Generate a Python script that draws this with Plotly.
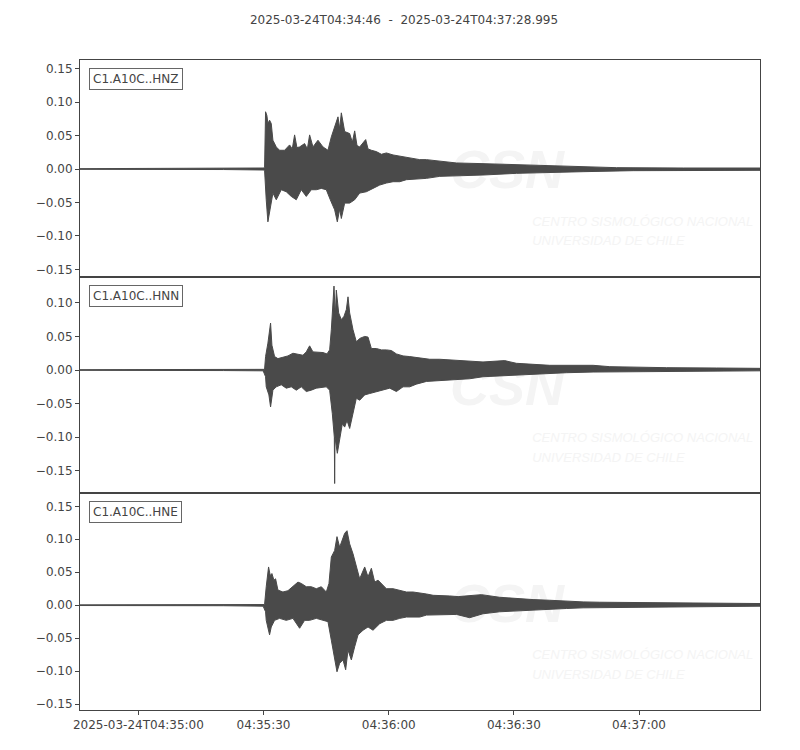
import plotly.graph_objects as go
from plotly.subplots import make_subplots
import pandas as pd

# seconds relative to 04:35:00, envelope amplitudes
base = pd.Timestamp('2025-03-24 04:35:00')

hnz_t_up = [-14.0, 20.4, 29.9, 30.24, 30.48, 30.8, 31.04, 31.44, 31.84, 32.24, 33.04, 33.84, 35.04, 36.24, 36.88,
            37.44, 38.0, 38.64, 39.84, 40.5, 41.04, 41.84, 43.04, 44.24, 45.44, 46.24, 47.04, 47.84, 48.24, 48.64,
            49.44, 50.64, 51.28, 51.84, 52.4, 53.04, 54.48, 55.04, 55.84, 57.04, 58.24, 59.44, 61.04, 62.64, 64.24,
            65.84, 67.44, 69.04, 70.64, 72.24, 73.84, 76.24, 82.6, 90.6, 98.6, 106.6, 114.6, 130.6, 149.0]
hnz_up = [0.0005, 0.0008, 0.0015, 0.002, 0.0856, 0.080, 0.068, 0.073, 0.068, 0.043, 0.033, 0.028, 0.028, 0.036, 0.030,
          0.051, 0.032, 0.033, 0.038, 0.030, 0.051, 0.033, 0.043, 0.033, 0.028, 0.048, 0.063, 0.078, 0.060, 0.084,
          0.056, 0.053, 0.040, 0.057, 0.035, 0.033, 0.044, 0.030, 0.028, 0.026, 0.022, 0.024, 0.021, 0.019, 0.017,
          0.016, 0.014, 0.014, 0.013, 0.011, 0.011, 0.009, 0.008, 0.0065, 0.0045, 0.003, 0.002, 0.0015, 0.0015]
hnz_t_lo = [-14.0, 20.4, 29.9, 30.24, 30.64, 31.04, 31.44, 31.84, 32.24, 33.04, 34.24, 35.44, 36.64, 37.84, 39.04,
            40.24, 41.44, 42.64, 43.84, 45.04, 46.0, 47.04, 47.68, 48.24, 48.64, 49.44, 50.64, 51.84, 53.04, 54.64,
            56.24, 57.84, 59.44, 61.04, 62.64, 64.24, 66.64, 69.04, 72.24, 76.24, 82.6, 90.6, 98.6, 106.6, 118.6,
            130.6, 149.0]
hnz_lo = [-0.0005, -0.0008, -0.0015, -0.002, -0.046, -0.079, -0.061, -0.051, -0.036, -0.046, -0.031, -0.034, -0.041,
          -0.046, -0.031, -0.041, -0.031, -0.031, -0.029, -0.031, -0.046, -0.061, -0.079, -0.060, -0.074, -0.051,
          -0.051, -0.046, -0.036, -0.034, -0.029, -0.024, -0.021, -0.019, -0.019, -0.016, -0.015, -0.014, -0.011,
          -0.010, -0.009, -0.0065, -0.005, -0.004, -0.0025, -0.002, -0.002]

hnn_t_up = [-14.0, 20.4, 29.9, 30.24, 30.48, 31.04, 31.68, 32.0, 32.64, 33.44, 34.64, 35.84, 37.04, 38.24, 39.44,
            40.24, 41.04, 41.84, 43.04, 44.24, 45.2, 45.84, 46.24, 46.88, 47.2, 47.44, 48.0, 48.64, 49.28, 49.84,
            50.24, 50.64, 51.44, 52.24, 53.04, 54.24, 55.04, 55.84, 57.04, 58.24, 59.44, 60.64, 61.84, 63.44, 65.04,
            66.64, 68.24, 69.84, 72.24, 74.64, 76.64, 82.6, 87.8, 90.6, 98.6, 109.0, 113.0, 118.6, 126.6, 138.6,
            149.0]
hnn_up = [0.0005, 0.0008, 0.0012, 0.001, 0.020, 0.040, 0.070, 0.037, 0.020, 0.017, 0.019, 0.021, 0.025, 0.024, 0.022,
          0.027, 0.036, 0.027, 0.027, 0.026, 0.024, 0.030, 0.060, 0.125, 0.080, 0.119, 0.085, 0.075, 0.080, 0.090,
          0.109, 0.085, 0.060, 0.042, 0.047, 0.050, 0.049, 0.032, 0.032, 0.030, 0.030, 0.029, 0.024, 0.021, 0.020,
          0.019, 0.017, 0.016, 0.016, 0.015, 0.014, 0.012, 0.014, 0.010, 0.007, 0.007, 0.005, 0.004, 0.0035, 0.003,
          0.0025]
hnn_t_lo = [-14.0, 20.4, 29.9, 30.48, 30.64, 31.28, 31.68, 32.24, 33.04, 34.24, 35.44, 36.64, 37.84, 39.04, 40.24,
            41.44, 42.64, 43.84, 45.04, 45.84, 46.48, 46.96, 47.04, 47.12, 47.68, 48.24, 48.88, 49.44, 50.0, 50.64,
            51.44, 52.24, 53.04, 54.24, 55.44, 57.04, 58.64, 60.24, 61.84, 63.44, 65.04, 66.64, 69.04, 72.24, 76.24,
            79.4, 82.6, 86.6, 90.6, 94.6, 98.6, 102.6, 109.0, 114.6, 122.6, 134.6, 149.0]
hnn_lo = [-0.0005, -0.0008, -0.0012, -0.010, -0.025, -0.037, -0.055, -0.030, -0.025, -0.022, -0.027, -0.025, -0.030,
          -0.025, -0.032, -0.030, -0.027, -0.026, -0.025, -0.030, -0.065, -0.100, -0.169, -0.100, -0.124, -0.104,
          -0.080, -0.085, -0.075, -0.087, -0.065, -0.042, -0.045, -0.037, -0.035, -0.032, -0.030, -0.027, -0.032,
          -0.025, -0.025, -0.021, -0.017, -0.015, -0.014, -0.013, -0.010, -0.0085, -0.0075, -0.006, -0.005, -0.004,
          -0.003, -0.0025, -0.002, -0.0015, -0.0012]

hne_t_up = [-14.0, -1.0, 0.0, 2.5, 20.4, 29.9, 30.24, 30.64, 31.2, 31.6, 32.0, 32.48, 32.88, 33.44, 34.64, 35.84,
            37.04, 38.24, 39.04, 40.24, 41.44, 42.64, 43.84, 45.04, 45.68, 46.24, 47.04, 47.6, 48.24, 49.04, 49.44,
            50.0, 50.64, 51.44, 52.24, 53.04, 54.24, 55.04, 55.84, 56.64, 57.44, 58.24, 59.44, 61.04, 62.64, 64.24,
            65.84, 67.44, 69.04, 70.64, 72.24, 74.64, 76.64, 78.6, 82.2, 86.6, 90.6, 94.6, 98.6, 102.6, 106.6, 110.6,
            118.6, 126.6, 138.6, 149.0]
hne_up = [0.0005, 0.0005, 0.0012, 0.0005, 0.0008, 0.0015, 0.001, 0.028, 0.058, 0.045, 0.048, 0.038, 0.040, 0.023,
          0.020, 0.022, 0.028, 0.035, 0.033, 0.028, 0.028, 0.025, 0.028, 0.020, 0.033, 0.073, 0.083, 0.104, 0.088,
          0.104, 0.109, 0.113, 0.093, 0.078, 0.058, 0.040, 0.058, 0.043, 0.056, 0.035, 0.038, 0.033, 0.025, 0.025,
          0.023, 0.020, 0.020, 0.019, 0.017, 0.015, 0.015, 0.014, 0.013, 0.014, 0.016, 0.012, 0.010, 0.0085, 0.0075,
          0.006, 0.005, 0.0045, 0.004, 0.0035, 0.003, 0.0025]
hne_t_lo = [-14.0, -1.0, 0.0, 2.5, 20.4, 29.9, 30.48, 30.64, 31.44, 31.84, 32.64, 33.84, 35.44, 37.04, 38.64, 39.84,
            41.04, 42.64, 44.24, 45.44, 46.24, 47.04, 47.6, 48.24, 49.04, 49.68, 50.24, 51.04, 51.84, 52.64, 53.84,
            55.04, 56.24, 57.84, 59.44, 61.04, 62.64, 64.24, 67.44, 69.04, 72.24, 76.24, 79.4, 82.6, 86.6, 90.6, 94.6,
            98.6, 102.6, 106.6, 114.6, 122.6, 134.6, 149.0]
hne_lo = [-0.0005, -0.0005, -0.0012, -0.0005, -0.0008, -0.0015, -0.010, -0.023, -0.045, -0.033, -0.023, -0.020,
          -0.023, -0.020, -0.035, -0.023, -0.023, -0.020, -0.023, -0.025, -0.053, -0.083, -0.101, -0.088, -0.083,
          -0.098, -0.068, -0.083, -0.063, -0.045, -0.038, -0.033, -0.038, -0.028, -0.023, -0.023, -0.020, -0.018,
          -0.018, -0.015, -0.015, -0.014, -0.019, -0.013, -0.010, -0.009, -0.0075, -0.006, -0.005, -0.004, -0.003,
          -0.0025, -0.002, -0.0015]

channels = ['C1.A10C..HNZ', 'C1.A10C..HNN', 'C1.A10C..HNE']
y_ranges = [[-0.161, 0.163], [-0.1836, 0.139], [-0.159, 0.1697]]
ytick_vals = [-0.15, -0.10, -0.05, 0.0, 0.05, 0.10, 0.15]
xtick_secs = [0, 30, 60, 90, 120]
xtick_text = ['2025-03-24T04:35:00', '04:35:30', '04:36:00', '04:36:30', '04:37:00']

traces = [(hnz_t_up, hnz_up, hnz_t_lo, hnz_lo),
          (hnn_t_up, hnn_up, hnn_t_lo, hnn_lo),
          (hne_t_up, hne_up, hne_t_lo, hne_lo)]

wave = '#4a4a4a'
axc = '#444444'
wm = '#f4f4f4'
t0, t1 = -14.0, 148.995

fig = make_subplots(rows=3, cols=1, shared_xaxes=True, vertical_spacing=0)

for i, (tu, up, tl, lo) in enumerate(traces):
    lo_y, hi_y = y_ranges[i]
    # faint agency watermark, drawn first so it sits under the trace
    wm_x = [base + pd.Timedelta(seconds=t0 + 0.628 * (t1 - t0)),
            base + pd.Timedelta(seconds=t0 + 0.665 * (t1 - t0)),
            base + pd.Timedelta(seconds=t0 + 0.665 * (t1 - t0))]
    wm_y = [lo_y + 0.47 * (hi_y - lo_y), lo_y + 0.25 * (hi_y - lo_y), lo_y + 0.16 * (hi_y - lo_y)]
    fig.add_trace(go.Scatter(x=wm_x, y=wm_y, mode='text',
                             text=['<b><i>CSN</i></b>', '<i>CENTRO SISMOLÓGICO NACIONAL</i>',
                                   '<i>UNIVERSIDAD DE CHILE</i>'],
                             textposition=['middle center', 'middle right', 'middle right'],
                             textfont=dict(size=[54, 13, 13], color=wm, family='Liberation Sans'),
                             showlegend=False, hoverinfo='skip'),
                  row=i+1, col=1)

    xs = list(base + pd.to_timedelta(tu, unit='s')) + list(base + pd.to_timedelta(tl[::-1], unit='s'))
    ys = up + lo[::-1]
    fig.add_trace(go.Scatter(x=xs, y=ys, mode='lines', fill='toself', fillcolor=wave,
                             line=dict(color=wave, width=1), showlegend=False, hoverinfo='skip'),
                  row=i+1, col=1)

    fig.update_yaxes(range=y_ranges[i], tickvals=ytick_vals, tickformat='.2f', showgrid=False,
                     zeroline=False, showline=True, mirror=True, linecolor=axc, linewidth=1,
                     ticks='outside', ticklen=4, tickcolor=axc, row=i+1, col=1)

    yref = 'y' if i == 0 else 'y%d' % (i+1)
    xref = 'x' if i == 0 else 'x%d' % (i+1)
    fig.add_annotation(text=channels[i], xref=xref+' domain', yref=yref+' domain', x=0.013, y=0.963,
                       xanchor='left', yanchor='top', showarrow=False, bgcolor='white',
                       bordercolor='#666666', borderwidth=1, borderpad=3,
                       font=dict(size=12, color=axc))

fig.update_xaxes(range=[base + pd.Timedelta(seconds=t0), base + pd.Timedelta(seconds=t1)],
                 showgrid=False, zeroline=False, showline=True, mirror=True, linecolor=axc, linewidth=1,
                 showticklabels=False, ticks='')
fig.update_xaxes(tickvals=list(base + pd.to_timedelta(xtick_secs, unit='s')), ticktext=xtick_text,
                 showticklabels=True, ticks='outside', ticklen=4, tickcolor=axc, row=3, col=1)

fig.update_layout(
    width=792, height=742,
    margin=dict(l=72, r=40, t=52, b=40),
    paper_bgcolor='white', plot_bgcolor='white',
    font=dict(family='DejaVu Sans', size=12, color=axc),
    title=dict(text='2025-03-24T04:34:46  -  2025-03-24T04:37:28.995', x=0.5, xanchor='center',
               y=1 - 12/742, yanchor='middle', yref='container', font=dict(size=12, color=axc)),
)

fig.write_html('out.html')
